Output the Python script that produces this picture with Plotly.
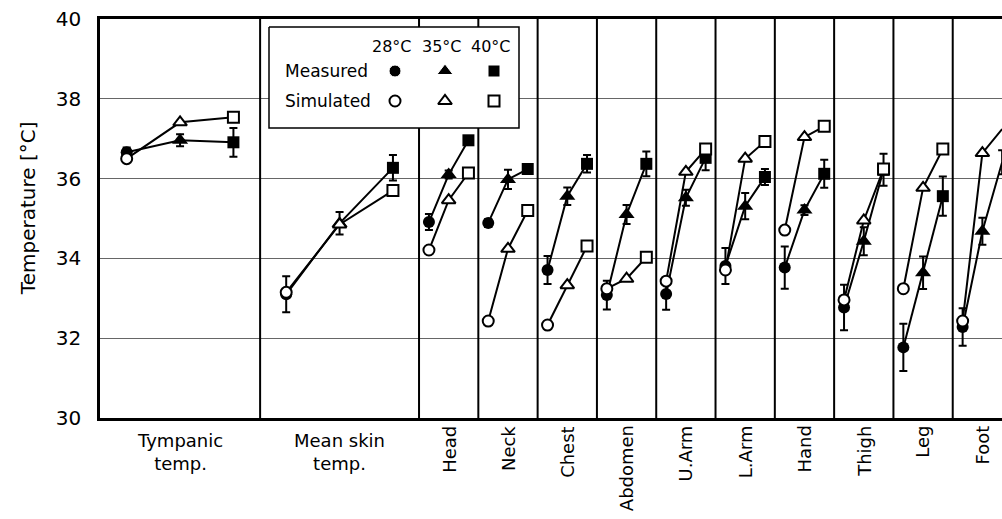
import plotly.graph_objects as go

# ---------------- data ----------------
categories = ["Tympanic<br>temp.", "Mean skin<br>temp.", "Head", "Neck", "Chest", "Abdomen",
              "U.Arm", "L.Arm", "Hand", "Thigh", "Leg", "Foot"]
conditions = ["28°C", "35°C", "40°C"]

measured_28 = [36.66, 33.10, 34.91, 34.89, 33.71, 33.08, 33.11, 33.81, 33.77, 32.77, 31.77, 32.28]
measured_35 = [36.96, 34.88, 36.10, 35.98, 35.56, 35.10, 35.52, 35.31, 35.21, 34.43, 33.64, 34.68]
measured_40 = [36.91, 36.27, 36.96, 36.24, 36.37, 36.37, 36.52, 36.04, 36.12, 36.22, 35.56, 36.41]
sd_28 = [0.12, 0.45, 0.20, 0.10, 0.35, 0.36, 0.40, 0.45, 0.53, 0.57, 0.59, 0.47]
sd_35 = [0.15, 0.28, 0.10, 0.24, 0.22, 0.24, 0.20, 0.33, 0.12, 0.35, 0.41, 0.34]
sd_40 = [0.36, 0.32, 0.10, 0.10, 0.22, 0.31, 0.31, 0.20, 0.35, 0.40, 0.49, 0.30]
simulated_28 = [36.50, 33.15, 34.21, 32.43, 32.33, 33.24, 33.43, 33.71, 34.71, 32.96, 33.24, 32.43]
simulated_35 = [37.41, 34.85, 35.46, 34.24, 33.33, 33.49, 36.17, 36.50, 37.04, 34.95, 35.77, 36.64]
simulated_40 = [37.54, 35.70, 36.14, 35.20, 34.31, 34.03, 36.74, 36.93, 37.31, 36.24, 36.74, 37.24]

y_ticks = [30, 32, 34, 36, 38, 40]

# ---------------- layout helpers ----------------
FONT = "DejaVu Sans"
UNIT_PX = 59.3
PLOT_L, PLOT_R, PLOT_T, PLOT_B = 100, 1002, 19, 418
widths = [2.7, 2.68] + [1.0] * 10
starts = []
acc = 0.0
for w in widths:
    starts.append(acc)
    acc += w
centers = [s + w / 2 for s, w in zip(starts, widths)]
offsets = [0.9 if w > 1.5 else 0.333 for w in widths]

symbols = ["circle", "triangle-up", "square"]
filled_sizes = [12, 14, 12]
open_sizes = [11, 12, 11]

fig = go.Figure()

for i, cat in enumerate(categories):
    xs = [centers[i] - offsets[i], centers[i], centers[i] + offsets[i]]
    fig.add_trace(go.Scatter(
        x=xs, y=[measured_28[i], measured_35[i], measured_40[i]],
        mode="lines+markers", cliponaxis=False, showlegend=False,
        line=dict(color="black", width=2),
        marker=dict(symbol=symbols, size=filled_sizes, color="black", opacity=1,
                    line=dict(color="black", width=0)),
        error_y=dict(type="data", array=[sd_28[i], sd_35[i], sd_40[i]], color="black",
                     thickness=2, width=4),
    ))
for i, cat in enumerate(categories):
    xs = [centers[i] - offsets[i], centers[i], centers[i] + offsets[i]]
    fig.add_trace(go.Scatter(
        x=xs, y=[simulated_28[i], simulated_35[i], simulated_40[i]],
        mode="lines+markers", cliponaxis=False, showlegend=False,
        line=dict(color="black", width=2),
        marker=dict(symbol=symbols, size=open_sizes, color="white", opacity=1,
                    line=dict(color="black", width=2)),
    ))

# ---------------- legend (drawn on overlay pixel axes) ----------------
leg_box_x = [269, 519, 519, 269, 269]
leg_box_y = [27, 27, 128, 128, 27]
fig.add_trace(go.Scatter(x=leg_box_x, y=leg_box_y, xaxis="x2", yaxis="y2", mode="lines",
                         fill="toself", fillcolor="white", line=dict(color="black", width=1.5),
                         showlegend=False, hoverinfo="skip"))
leg_cols = [395, 445, 494]
fig.add_trace(go.Scatter(x=leg_cols, y=[71, 71, 71], xaxis="x2", yaxis="y2", mode="markers",
                         marker=dict(symbol=symbols, size=filled_sizes, color="black", opacity=1),
                         showlegend=False, hoverinfo="skip"))
fig.add_trace(go.Scatter(x=leg_cols, y=[101, 101, 101], xaxis="x2", yaxis="y2", mode="markers",
                         marker=dict(symbol=symbols, size=open_sizes, color="white", opacity=1,
                                     line=dict(color="black", width=2)),
                         showlegend=False, hoverinfo="skip"))

annotations = []
for c, lab in zip(leg_cols, conditions):
    annotations.append(dict(x=c - 3, y=46, xref="x2", yref="y2", text=lab, showarrow=False,
                            font=dict(family=FONT, size=16, color="black")))
for lab, yy in [("Measured", 71), ("Simulated", 101)]:
    annotations.append(dict(x=283, y=yy, xref="x2", yref="y2", text=lab, showarrow=False,
                            xanchor="left", font=dict(family=FONT, size=17, color="black")))

# category labels
for i, cat in enumerate(categories):
    if "<br>" in cat:
        annotations.append(dict(x=centers[i], y=-0.026, xref="x", yref="paper", text=cat,
                                showarrow=False, yanchor="top", xanchor="center",
                                font=dict(family=FONT, size=18, color="black")))
    else:
        annotations.append(dict(x=centers[i], y=-0.014, xref="x", yref="paper", text=cat,
                                showarrow=False, yanchor="top", xanchor="center", textangle=-90,
                                font=dict(family=FONT, size=18, color="black")))

# y title
annotations.append(dict(x=0, y=0.526, xref="paper", yref="paper", xshift=-72,
                        xanchor="center", yanchor="middle",
                        text="Temperature [°C]", showarrow=False, textangle=-90,
                        font=dict(family=FONT, size=20, color="black")))

# separators
shapes = []
for s in starts[1:]:
    shapes.append(dict(type="line", x0=s, x1=s, y0=30, y1=40, xref="x", yref="y",
                       layer="between", line=dict(color="black", width=2)))
shapes.append(dict(type="line", x0=acc, x1=acc, y0=30, y1=40, xref="x", yref="y",
                   layer="between", line=dict(color="black", width=2)))

fig.update_layout(
    width=1002, height=519,
    margin=dict(l=PLOT_L, r=1002 - PLOT_R, t=PLOT_T, b=519 - PLOT_B, pad=0),
    paper_bgcolor="white", plot_bgcolor="white",
    showlegend=False,
    annotations=annotations, shapes=shapes,
    xaxis=dict(range=[0, (PLOT_R - PLOT_L) / UNIT_PX], showgrid=False, zeroline=False,
               showticklabels=False, ticks="", showline=True, mirror=True,
               linecolor="black", linewidth=2.5, fixedrange=True),
    yaxis=dict(range=[30, 40], tickvals=y_ticks, showgrid=True, gridcolor="#666666", gridwidth=1,
               zeroline=False, showline=True, linecolor="black", linewidth=2.5, ticks="",
               ticklabelstandoff=12, tickfont=dict(family=FONT, size=20, color="black"),
               fixedrange=True),
    xaxis2=dict(range=[PLOT_L, PLOT_R], overlaying="x", visible=False, fixedrange=True),
    yaxis2=dict(range=[PLOT_B, PLOT_T], overlaying="y", visible=False, fixedrange=True),
)

fig.write_html("out.html")
